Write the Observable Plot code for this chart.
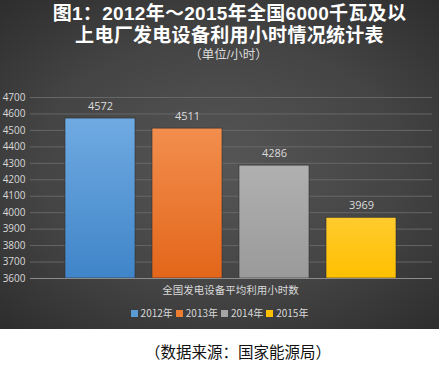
<!DOCTYPE html>
<html>
<head>
<meta charset="utf-8">
<script src="https://cdn.jsdelivr.net/npm/d3@7"></script>
<script src="https://cdn.jsdelivr.net/npm/@observablehq/plot@0.6"></script>
<style>
  html, body { margin: 0; padding: 0; background: #fff; }
  body { width: 439px; height: 378px; overflow: hidden; font-family: "Noto Sans CJK SC", "Noto Sans", sans-serif; }
  #panel { position: relative; width: 439px; height: 329px; overflow: hidden;
    background: radial-gradient(ellipse 75% 70% at 50% 50%, #565656 0%, #444 55%, #2c2c2c 100%); }
  #chart { position: absolute; left: 0; top: 0; }
  #title { position: absolute; left: 10px; top: 3px; width: 439px; text-align: center; white-space: nowrap; color: #fff; font-family: "Liberation Sans", "Noto Sans CJK SC", sans-serif; font-weight: bold; font-size: 19px; line-height: 22px; letter-spacing: 0.3px; }
  #sub { position: absolute; left: 9px; top: 47px; width: 439px; text-align: center; color: #d9d9d9; font-family: "Liberation Sans", "Noto Sans CJK SC", sans-serif; font-size: 12.5px; line-height: 17px; }
  .xt { position: absolute; left: 0; width: 461px; top: 283px; text-align: center; color: #d9d9d9; font-size: 10.5px; line-height: 14px; }
  #legend { position: absolute; left: 0; width: 439px; top: 306px; display: flex; justify-content: center; gap: 3px; color: #d9d9d9; font-size: 10px; line-height: 14px; }
  #legend span.sw { display: inline-block; width: 7px; height: 7px; margin-right: 3px; vertical-align: 0px; }
  .cap { position: absolute; left: 0; width: 476px; top: 341px; text-align: center; color: #111; font-size: 15.5px; line-height: 20px; }
</style>
</head>
<body>
<div id="panel">
  <div id="chart"></div>
  <div id="title"></div>
  <div id="sub"></div>
  <div class="xt" id="xt"></div>
  <div id="legend"></div>
</div>
<div class="cap" id="cap"></div>
<script>
const titleLine1 = "图1：2012年～2015年全国6000千瓦及以";
const titleLine2 = "上电厂发电设备利用小时情况统计表";
const subtitle = "（单位/小时）";
const xTitle = "全国发电设备平均利用小时数";
const caption = "（数据来源：国家能源局）";

const years = ["2012年", "2013年", "2014年", "2015年"];
const hours = [4572, 4511, 4286, 3969];
const colors = ["#5b9bd5", "#ed7d31", "#a5a5a5", "#ffc000"];
const topColors = ["#70aae2", "#f28e4e", "#b0b0b0", "#ffcb2e"];
const bottomColors = ["#3f85c8", "#e3661a", "#9a9a9a", "#ffc000"];
const yTicks = [3600, 3700, 3800, 3900, 4000, 4100, 4200, 4300, 4400, 4500, 4600, 4700];
const yBase = 3600;

const title = document.getElementById("title");
title.appendChild(document.createTextNode(titleLine1));
title.appendChild(document.createElement("br"));
title.appendChild(document.createTextNode(titleLine2));
document.getElementById("sub").textContent = subtitle;
document.getElementById("xt").textContent = xTitle;
document.getElementById("cap").textContent = caption;

const data = years.map((y, i) => ({year: y, value: hours[i], i}));

const plot = Plot.plot({
  width: 439,
  height: 300,
  marginTop: 97,
  marginBottom: 22,
  marginLeft: 30,
  marginRight: 7,
  style: {background: "transparent", color: "#d9d9d9", fontFamily: "'Open Sans', 'Noto Sans', sans-serif", fontSize: "10px"},
  x: {domain: years, paddingInner: 0.19, paddingOuter: 0.39, axis: null},
  y: {domain: [yTicks[0], yTicks[yTicks.length - 1]], axis: null},
  marks: [
    Plot.gridY(yTicks, {stroke: "#6a6a6a", strokeOpacity: 0.9}),
    Plot.axisY(yTicks, {tickSize: 0, tickPadding: 5, tickFormat: d => String(d), fill: "#d9d9d9", fontSize: 10, label: null}),
    ...data.map(d => Plot.barY([d], {x: "year", y1: () => yBase, y2: "value", fill: `url(#bg${d.i})`, stroke: "#2f2f2f", strokeWidth: 0.6})),
    Plot.ruleY([yBase], {stroke: "#8c8c8c", strokeWidth: 1.2}),
    Plot.text(data, {x: "year", y: "value", text: d => String(d.value), dy: -12, fill: "#dcdcdc", fontSize: 11})
  ]
});

// gradient definitions for the bars
const ns = "http://www.w3.org/2000/svg";
const defs = document.createElementNS(ns, "defs");
colors.forEach((c, i) => {
  const g = document.createElementNS(ns, "linearGradient");
  g.setAttribute("id", `bg${i}`);
  g.setAttribute("x1", "0"); g.setAttribute("y1", "0");
  g.setAttribute("x2", "0"); g.setAttribute("y2", "1");
  [[0, topColors[i]], [1, bottomColors[i]]].forEach(([o, col]) => {
    const s = document.createElementNS(ns, "stop");
    s.setAttribute("offset", o);
    s.setAttribute("stop-color", col);
    g.appendChild(s);
  });
  defs.appendChild(g);
});
plot.insertBefore(defs, plot.firstChild);
document.getElementById("chart").appendChild(plot);

const legend = document.getElementById("legend");
years.forEach((y, i) => {
  const item = document.createElement("div");
  const sw = document.createElement("span");
  sw.className = "sw";
  sw.style.background = colors[i];
  item.appendChild(sw);
  item.appendChild(document.createTextNode(y));
  legend.appendChild(item);
});
</script>
</body>
</html>
